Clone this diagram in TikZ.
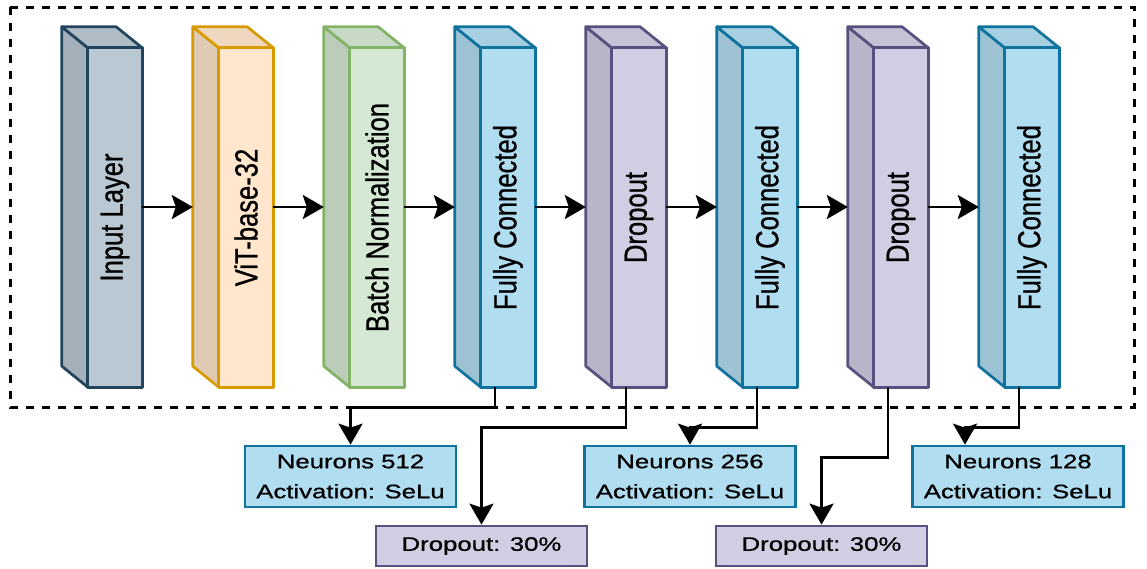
\documentclass[tikz,border=0pt]{standalone}
\usepackage{fontspec}
\usetikzlibrary{arrows.meta}

\newfontfamily\layerfont[FakeStretch=0.8, FakeBold=0.8]{Liberation Sans}
\newfontfamily\boxfont[FakeStretch=1.32, FakeBold=0.8]{Liberation Sans}

\definecolor{inputfill}{HTML}{BAC8D3}
\definecolor{inputline}{HTML}{23445D}
\definecolor{vitfill}{HTML}{FFE6CC}
\definecolor{vitline}{HTML}{D79B00}
\definecolor{bnfill}{HTML}{D5E8D4}
\definecolor{bnline}{HTML}{82B366}
\definecolor{fcfill}{HTML}{B1DDF0}
\definecolor{fcline}{HTML}{10739E}
\definecolor{dropfill}{HTML}{D0CEE2}
\definecolor{dropline}{HTML}{56517E}

\tikzset{
    layer/.style={minimum width=80pt, minimum height=360pt, inner sep=0pt},
    face/.style={line width=2.7pt, line join=round},
    flow/.style={line width=2.7pt, -{Stealth[length=21pt, width=24pt, inset=4pt]}},
    info/.style={draw=fcline, fill=fcfill, line width=2.7pt, inner sep=0pt,
        minimum width=211pt, minimum height=61pt, align=center,
        font=\boxfont\fontsize{19.5}{30}\selectfont},
    rate/.style={draw=dropline, fill=dropfill, line width=2.7pt, inner sep=0pt,
        minimum width=211pt, minimum height=40pt,
        font=\boxfont\fontsize{19.5}{30}\selectfont}
}

% a layer drawn as a box: #1 name, #2 x of centre, #3 fill, #4 line, #5 label
\newcommand{\layerblock}[5]{
    \node[layer] (#1) at (#2, 207) {};
    % left side
    \filldraw[face, fill=#3!88!black, draw=#4] (#1.north west)
        -- ([xshift=26pt, yshift=-21pt]#1.north west)
        -- ([xshift=26pt]#1.south west)
        -- ([yshift=21pt]#1.south west) -- cycle;
    % top
    \filldraw[face, fill=#3!94!black, draw=#4] (#1.north west)
        -- ([xshift=-26pt]#1.north east)
        -- ([yshift=-21pt]#1.north east)
        -- ([xshift=26pt, yshift=-21pt]#1.north west) -- cycle;
    % front
    \filldraw[face, fill=#3, draw=#4] ([xshift=26pt, yshift=-21pt]#1.north west)
        rectangle (#1.south east);
    \node[rotate=90, font=\layerfont\fontsize{32}{36}\selectfont] (#1-text)
        at ([xshift=13pt, yshift=-10.5pt]#1.center) {#5};
}

\begin{document}
\begin{tikzpicture}[x=1pt, y=-1pt]
    \useasboundingbox (0, 0) rectangle (1147, 568);

    \draw[line width=3pt, dash pattern=on 8pt off 8pt] (10, 7) rectangle (1134, 407);

    \layerblock{input}{102}{inputfill}{inputline}{Input Layer}
    \layerblock{vit}{233}{vitfill}{vitline}{ViT-base-32}
    \layerblock{bn}{364}{bnfill}{bnline}{Batch Normalization}
    \layerblock{fc1}{495}{fcfill}{fcline}{Fully Connected}
    \layerblock{do1}{626}{dropfill}{dropline}{Dropout}
    \layerblock{fc2}{757}{fcfill}{fcline}{Fully Connected}
    \layerblock{do2}{888}{dropfill}{dropline}{Dropout}
    \layerblock{fc3}{1019}{fcfill}{fcline}{Fully Connected}

    \draw[flow] (input) -- (vit);
    \draw[flow] (vit) -- (bn);
    \draw[flow] (bn) -- (fc1);
    \draw[flow] (fc1) -- (do1);
    \draw[flow] (do1) -- (fc2);
    \draw[flow] (fc2) -- (do2);
    \draw[flow] (do2) -- (fc3);

    % settings of each layer
    \node[info] (n512) at (350.5, 476.5) {Neurons 512\\Activation: SeLu};
    \node[info] (n256) at (690, 476.5) {Neurons 256\\Activation: SeLu};
    \node[info] (n128) at (1018, 476.5) {Neurons 128\\Activation: SeLu};
    \node[rate] (rate1) at (481.5, 546) {Dropout: 30\%};
    \node[rate] (rate2) at (821.5, 546) {Dropout: 30\%};

    \draw[flow] (fc1.south) -- ++(0, 20) -| (n512.north);
    \draw[flow] (do1.south) -- ++(0, 40) -| (rate1.north);
    \draw[flow] (fc2.south) -- ++(0, 40) -| (n256.north);
    \draw[flow] (do2.south) -- ++(0, 70) -| (rate2.north);
    \draw[flow] (fc3.south) -- ++(0, 40) -| ([xshift=-53pt]n128.north);
\end{tikzpicture}
\end{document}
